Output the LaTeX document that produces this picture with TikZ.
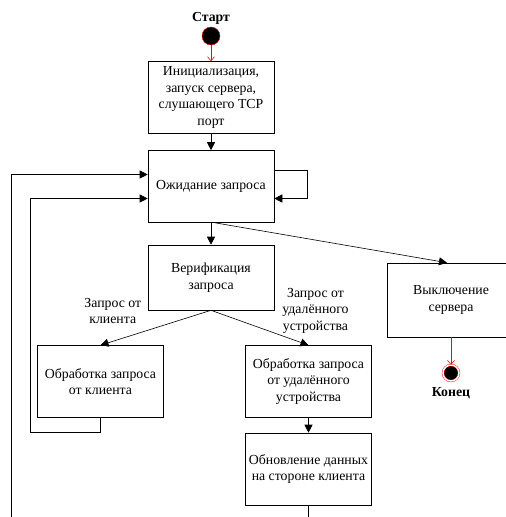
\documentclass[tikz,border=0pt]{standalone}
\usepackage{fontspec}
\setmainfont{Liberation Serif}
\usetikzlibrary{positioning}
\usetikzlibrary{arrows.meta}
\tikzstyle{startstop} = [circle, minimum size=18pt, inner sep=0pt, draw=red, fill=black]
\tikzstyle{process} = [rectangle, minimum width=126pt, minimum height=72pt, text centered, align=center, draw=black, line width=0.6pt]
\tikzstyle{arrow} = [line width=0.6pt, ->, >={Triangle[length=8pt,width=8pt]}]
\tikzstyle{redarrow} = [red, line width=0.6pt, ->, >={Straight Barb[length=4pt,width=7pt]}]

\begin{document}
\begin{tikzpicture}[node distance=89pt, x=1pt, y=1pt, font=\fontsize{13.8}{16.5}\selectfont]
        \useasboundingbox (0,0) rectangle (506,-517);
        \clip (0,0) rectangle (506,-517);
        \node (start) [startstop] at (211,-36) {};
        \node (startText) [above=-1pt of start, font=\fontsize{13.8}{16.5}\selectfont\bfseries] {Старт};
        \node (init) [process, below of=start, yshift=27.5pt] {Инициализация,\\запуск сервера,\\слушающего TCP\\порт};
        \node (wait) [process, below of=init] {Ожидание запроса};
        \node (verify) [process, below of=wait, yshift=-2pt, minimum height=65pt] {Верификация\\запроса};
        \node (client) [process, below of=verify, xshift=-110.5pt, yshift=-15pt] {Обработка запроса\\от клиента};
        \node (device) [process, below of=verify, xshift=97.5pt, yshift=-15pt] {Обработка запроса\\от удалённого\\устройства};
        \node (update) [process, below of=device, yshift=1.5pt] {Обновление данных\\на стороне клиента};
        \node (shutdown) [process, right of=verify, xshift=151pt, yshift=-22.5pt, minimum width=128pt, minimum height=74pt] {Выключение\\сервера};
        \node (stop) [startstop, below of=shutdown, yshift=16pt, minimum size=16pt, double=white, double distance=1.5pt] {};
        \node (stopText) [below=3pt of stop, font=\fontsize{13.8}{16.5}\selectfont\bfseries] {Конец};

        \draw [redarrow] (start) -- (init);
        \draw [arrow] (init) -- (wait);
        \draw [arrow] ([yshift=16pt]wait.east) -- ++(33pt,0) |- ([yshift=-12pt]wait.east);
        \draw [arrow] (wait) -- (verify);
        \draw [arrow] ([xshift=4pt]wait.south) -- ([xshift=-4pt]shutdown.north);
        \draw [arrow] (verify.south) -- node[anchor=east, xshift=-11pt, yshift=17pt, align=center] {Запрос от\\клиента} (client.north);
        \draw [arrow] (verify.south) -- node[anchor=west, xshift=19pt, yshift=17pt, align=center] {Запрос от\\удалённого\\устройства} (device.north);
        \draw [arrow] (device) -- (update);
        \draw [arrow] (client.south) -- ++(0,-14pt) -- ++(-70pt,0) |- ([yshift=-12pt]wait.west);
        \draw [arrow] (update.south) -- ++(0,-30pt) -- ++(-297.5pt,0) |- ([yshift=12pt]wait.west);
        \draw [redarrow] (shutdown) -- (stop);
    \end{tikzpicture}
\end{document}
